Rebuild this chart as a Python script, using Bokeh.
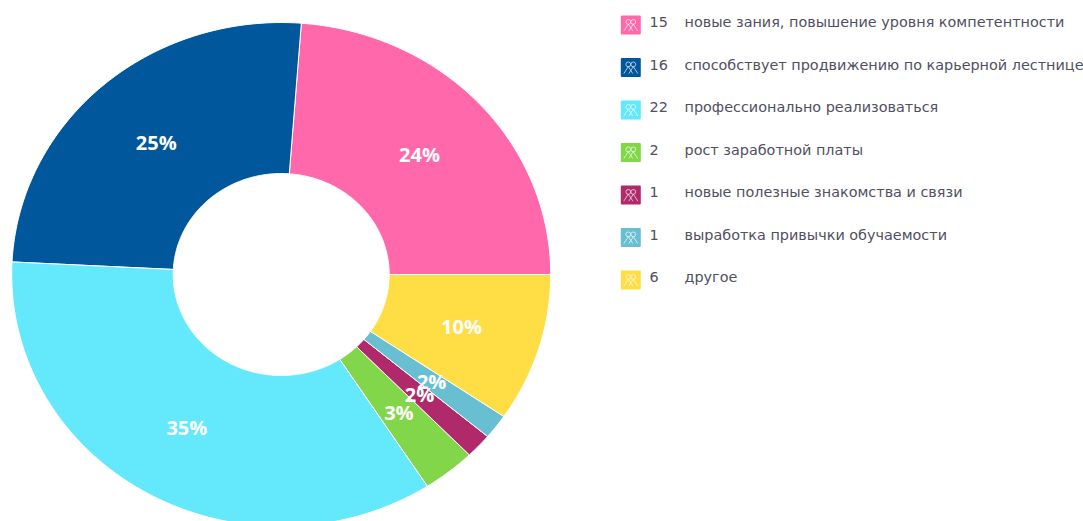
import numpy as np
from bokeh.plotting import figure
from bokeh.models import Range1d
from bokeh.core.properties import value
from bokeh.embed import file_html
from bokeh.resources import INLINE

labels = ["новые зания, повышение уровня компетентности",
          "способствует продвижению по карьерной лестнице",
          "профессионально реализоваться",
          "рост заработной платы",
          "новые полезные знакомства и связи",
          "выработка привычки обучаемости",
          "другое"]
counts = [15, 16, 22, 2, 1, 1, 6]
percents = ["24%", "25%", "35%", "3%", "2%", "2%", "10%"]
colors = ["#FF69AC", "#00579B", "#64E8FB", "#82D64A", "#B02A6B", "#69BFD2", "#FFDE45"]

W, H = 1083, 521
CX, CY = 280.7, H - 274
R_OUT, R_IN = 269.5, 108
SQUASH = 0.935  # the reference pie is slightly flattened vertically

vals = np.array(counts, dtype=float)
edges = np.concatenate([[0], np.cumsum(vals)]) / vals.sum() * 2 * np.pi
starts, ends = edges[:-1], edges[1:]
mids = (starts + ends) / 2

p = figure(width=W, height=H, output_backend="svg", toolbar_location=None,
           x_range=Range1d(0, W), y_range=Range1d(0, H), min_border=0,
           outline_line_color=None, background_fill_color="white")
p.axis.visible = False
p.grid.visible = False

xs, ys = [], []
for a, b in zip(starts, ends):
    t = np.linspace(a, b, max(8, int((b - a) * 90)))
    xs.append(np.concatenate([CX + R_OUT * np.cos(t), CX + R_IN * np.cos(t[::-1])]))
    ys.append(np.concatenate([CY + SQUASH * R_OUT * np.sin(t), CY + SQUASH * R_IN * np.sin(t[::-1])]))
p.patches(xs=xs, ys=ys, fill_color=colors, line_color="white", line_width=1)

R_MID = (R_OUT + R_IN) / 2
p.text(x=CX + R_MID * np.cos(mids), y=CY + SQUASH * R_MID * np.sin(mids), text=percents,
       text_color="white", text_align="center", text_baseline="middle",
       text_font=value("Open Sans"), text_font_style="bold",
       text_font_size="20px")

rows = np.arange(len(labels))
sw_y = H - (24.6 + 42.5 * rows)
tx_y = H - (21.8 + 42.5 * rows)
p.rect(x=630.3, y=sw_y, width=20, height=19, fill_color=colors, line_color=None,
       border_radius=1)

# small "people" icon on each swatch
for dx, dy in [(-2.5, 3.2), (2.5, 3.2)]:
    p.circle(x=630.3 + dx, y=sw_y + dy, radius=2.4, fill_color=None,
             line_color="white", line_alpha=0.65, line_width=1)
    ix = [[630.3 + dx - 4.5, 630.3 + dx, 630.3 + dx + 4.5] for _ in rows]
    iy = [[y - 6, y + 1, y - 6] for y in sw_y]
    p.multi_line(xs=ix, ys=iy, line_color="white", line_alpha=0.65, line_width=1)

p.text(x=649, y=tx_y, text=[str(c) for c in counts], text_color="#50505F",
       text_baseline="middle", text_font=value("DejaVu Sans"), text_font_size="14.4px")
p.text(x=684, y=tx_y, text=labels, text_color="#50505F",
       text_baseline="middle", text_font=value("DejaVu Sans"), text_font_size="14.4px")

open("out.html", "w").write(file_html(p, INLINE))
